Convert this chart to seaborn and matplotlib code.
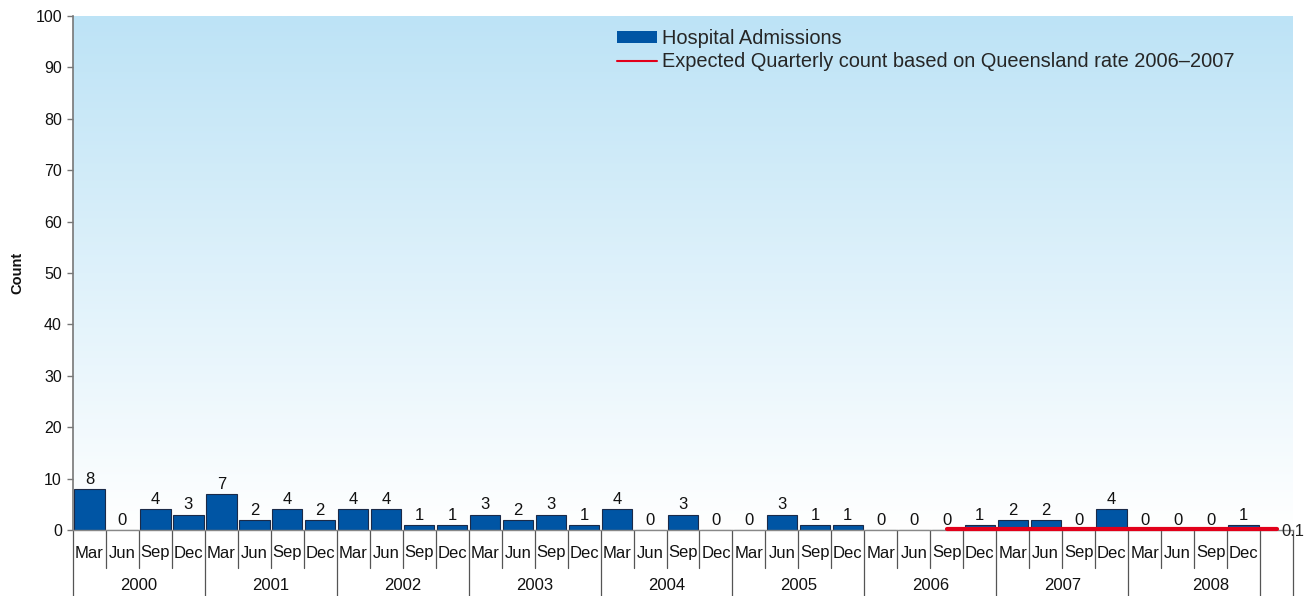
import numpy as np
import pandas as pd
import matplotlib
matplotlib.use("Agg")
import matplotlib.pyplot as plt
import matplotlib.transforms as mtransforms
from matplotlib.patches import Patch
from matplotlib.lines import Line2D
from matplotlib.colors import LinearSegmentedColormap
import seaborn as sns

# ---- data ----
years = ["2000", "2001", "2002", "2003", "2004", "2005", "2006", "2007", "2008"]
months = ["Mar", "Jun", "Sep", "Dec"]
admissions = [8, 0, 4, 3,
              7, 2, 4, 2,
              4, 4, 1, 1,
              3, 2, 3, 1,
              4, 0, 3, 0,
              0, 3, 1, 1,
              0, 0, 0, 1,
              2, 2, 0, 4,
              0, 0, 0, 1]
expected_start = 26          # Sep 2006
expected_value = 0.1
expected_label = "0.1"

BAR_COLOR = "#0055A4"
LINE_COLOR = "#E2001A"

sns.set_theme(style="white")
plt.rcParams["font.family"] = ["Liberation Sans", "DejaVu Sans"]

df = pd.DataFrame({"idx": np.arange(len(admissions)), "count": admissions})
n_slots = len(admissions) + 1   # one blank slot at the end

fig = plt.figure(figsize=(13.14, 5.96), dpi=100)
ax = fig.add_axes([73 / 1314, 1 - 530 / 596, 1220 / 1314, 514 / 596])

# background gradient (white at bottom -> light blue at top)
cmap = LinearSegmentedColormap.from_list("bg", ["#FFFFFF", "#BDE3F6"])
grad = np.linspace(0, 1, 256).reshape(-1, 1)
ax.imshow(grad, cmap=cmap, aspect="auto", extent=[0, 1, 0, 1],
          transform=ax.transAxes, origin="lower", zorder=0)

sns.barplot(data=df, x="idx", y="count", color=BAR_COLOR, saturation=1,
            width=0.92, edgecolor="#1B2A48", linewidth=0.8, ax=ax, zorder=2)

# expected line
exp_x = np.arange(expected_start, n_slots)
exp_y = np.full(len(exp_x), expected_value)
ax.plot(exp_x, exp_y, color=LINE_COLOR, lw=3.0, solid_capstyle="round",
        zorder=3, clip_on=False)
ax.text(exp_x[-1] + 0.15, expected_value - 0.3, expected_label, ha="left", va="center",
        fontsize=12, color="#222222", zorder=4, clip_on=False)

# value labels
for i, v in enumerate(admissions):
    ax.annotate(str(v), (i, v), xytext=(0, 1.5), textcoords="offset points",
                ha="center", va="bottom", fontsize=12, color="#111111")

ax.set_xlim(-0.5, n_slots - 0.5)
ax.set_ylim(0, 100)
ax.set_yticks(np.arange(0, 101, 10))
ax.tick_params(axis="y", left=True, length=4, width=1, color="#777777",
               labelsize=11.5, labelcolor="#111111", pad=4)
ax.set_xticks([])
ax.set_xlabel("")
ax.set_ylabel("")
fig.text(17 / 1314, 1 - 273 / 596, "Count", rotation=90, ha="center", va="center",
         fontsize=10.5, fontweight="bold", color="#111111")
for side in ["top", "right"]:
    ax.spines[side].set_visible(False)
ax.spines["left"].set_color("#777777")
ax.spines["left"].set_linewidth(1.2)
ax.spines["bottom"].set_color("#888888")
ax.spines["bottom"].set_linewidth(1.0)

# two-level category axis
trans = mtransforms.blended_transform_factory(ax.transData, ax.transAxes)
month_bottom = -38 / 514
year_bottom = -66 / 514
for i in range(len(admissions)):
    ax.text(i, -23 / 514, months[i % 4], transform=trans, ha="center", va="center",
            fontsize=12, color="#111111", clip_on=False)
for i in range(n_slots):
    bottom = year_bottom if i % 4 == 0 else month_bottom
    ax.plot([i - 0.5, i - 0.5], [0, bottom], transform=trans, color="#555555",
            lw=0.9, clip_on=False)
ax.plot([n_slots - 0.5, n_slots - 0.5], [0, year_bottom], transform=trans,
        color="#555555", lw=0.9, clip_on=False)
for k, yr in enumerate(years):
    centre = k * 4 + 1.5
    if k == len(years) - 1:
        centre = k * 4 + 2
    ax.text(centre, -55 / 514, yr, transform=trans, ha="center", va="center",
            fontsize=12, color="#111111", clip_on=False)

handles = [Patch(facecolor=BAR_COLOR, edgecolor="none"),
           Line2D([0], [0], color=LINE_COLOR, lw=1.5)]
labels = ["Hospital Admissions", "Expected Quarterly count based on Queensland rate 2006\u20132007"]
fig.legend(handles, labels, loc="upper left", bbox_to_anchor=(0.459, 0.974),
           frameon=False, fontsize=14.4, handlelength=2.0, handleheight=0.55,
           handletextpad=0.25, labelspacing=0.2, borderpad=0.2)

fig.savefig("out.png", dpi=100)
